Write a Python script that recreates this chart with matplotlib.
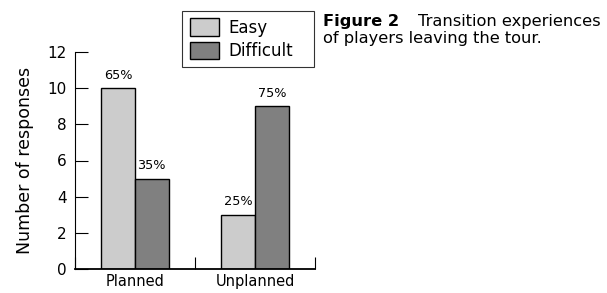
import matplotlib
matplotlib.use("Agg")
import matplotlib.pyplot as plt
import numpy as np

# data
categories = ["Planned", "Unplanned"]
easy = [10, 3]
difficult = [5, 9]
easy_pct = ["65%", "25%"]
difficult_pct = ["35%", "75%"]

plt.rcParams["font.family"] = ["DejaVu Sans"]

fig = plt.figure(figsize=(6.07, 2.93), dpi=100)
ax = fig.add_axes([75 / 607, 1 - 269 / 293, 240 / 607, 217 / 293])

x = np.arange(len(categories))
w = 0.28
b1 = ax.bar(x - w / 2, easy, w, color="#cccccc", edgecolor="black", linewidth=1, label="Easy")
b2 = ax.bar(x + w / 2, difficult, w, color="#808080", edgecolor="black", linewidth=1, label="Difficult")

# percentage labels above each bar
for bars, labels in ((b1, easy_pct), (b2, difficult_pct)):
    for bar, lab in zip(bars, labels):
        ax.text(bar.get_x() + bar.get_width() / 2, bar.get_height() + 0.35, lab,
                ha="center", va="bottom", fontsize=9.3)

ax.set_xlim(-0.5, 1.5)
ax.set_ylim(0, 12)
ax.set_yticks([0, 2, 4, 6, 8, 10, 12])
ax.tick_params(axis="y", direction="in", length=9, width=0.8, labelsize=11, pad=6)

# ticks sit on the group boundaries, names go under the groups
ax.set_xticks([-0.5, 0.5, 1.5])
ax.set_xticklabels([])
ax.tick_params(axis="x", direction="in", length=9, width=0.8)
for xi, name in zip(x, categories):
    ax.text(xi, -0.25, name, ha="center", va="top", fontsize=10.5)

ax.spines["top"].set_visible(False)
ax.spines["right"].set_visible(False)
ax.spines["left"].set_linewidth(0.8)
ax.spines["bottom"].set_linewidth(1.3)
ax.set_ylabel("Number of responses", fontsize=12.5, labelpad=10)

leg = fig.legend(handles=[b1, b2], loc="upper left",
                 bbox_to_anchor=(182 / 607, 1 - 69 / 293, 132 / 607, 58 / 293),
                 mode="expand", borderaxespad=0, fancybox=False, frameon=True,
                 fontsize=12, handlelength=1.75, handleheight=1.2, handletextpad=0.6,
                 borderpad=0.45, labelspacing=0.3)
leg.get_frame().set_edgecolor("black")
leg.get_frame().set_linewidth(0.8)

# caption to the right of the legend
fig.text(323 / 607, 1 - 26 / 293, "Figure 2", fontsize=11.7, fontweight="bold", va="baseline")
fig.text(418 / 607, 1 - 26 / 293, "Transition experiences", fontsize=11.7, va="baseline")
fig.text(323 / 607, 1 - 43 / 293, "of players leaving the tour.", fontsize=11.7, va="baseline")

fig.savefig("out.png", dpi=100)
